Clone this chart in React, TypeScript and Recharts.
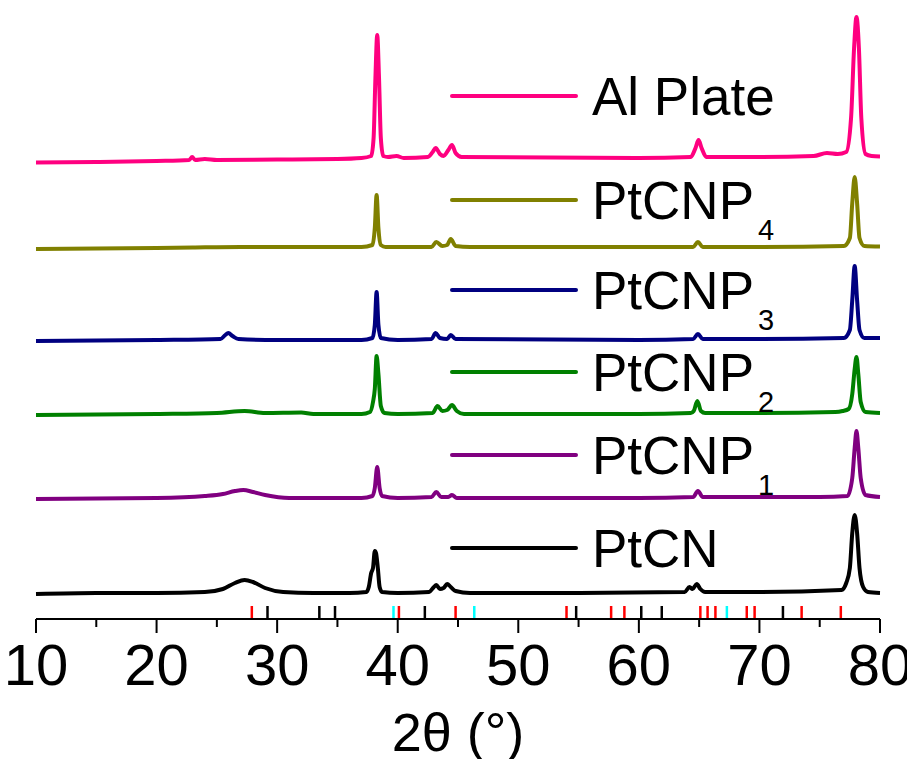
import React from 'react';
import { LineChart, Line, XAxis, YAxis, ReferenceLine, Legend } from 'recharts';

// 2θ (deg), intensity above own baseline (a.u.)
const ptcnPoints: [number, number][] = [
  [10, -1], [15, 0], [20, 0], [24, 1], [25.5, 4], [26.5, 10], [27.3, 13], [28, 11], [29, 5], [30.5, 1],
  [33, 0], [36, 0], [37.4, 1], [37.6, 6], [37.8, 20], [37.95, 25], [38.1, 42], [38.2, 40], [38.35, 25],
  [38.5, 6], [38.7, 1], [40, 0], [42.6, 1], [43.0, 6], [43.2, 8], [43.5, 4], [43.8, 5], [44.1, 9],
  [44.4, 6], [44.8, 2], [46, 0], [55, 0], [63.8, 1], [64.2, 6], [64.45, 4], [64.8, 9], [65.1, 4],
  [65.5, 1], [70, 1], [76.8, 3], [77.2, 10], [77.5, 25], [77.7, 60], [77.9, 78], [78.1, 60], [78.3, 25],
  [78.6, 6], [79, 1], [80, 0],
];
const p1Points: [number, number][] = [
  [10, -1], [20, 0], [24, 2], [25.5, 4], [26.5, 7], [27.2, 8], [28, 6], [29, 3], [31, 0], [37, 0],
  [37.9, 2], [38.1, 10], [38.3, 31], [38.5, 10], [38.7, 2], [40, 0], [42.8, 1], [43.2, 6], [43.6, 1],
  [44.2, 1], [44.5, 3], [44.9, 0], [60, 0], [64.5, 1], [64.9, 7], [65.3, 1], [75, 1], [77.3, 2],
  [77.7, 20], [77.9, 50], [78.05, 67], [78.2, 50], [78.4, 20], [78.8, 3], [80, 1],
];
const p2Points: [number, number][] = [
  [10, -1], [20, 0], [25, 1], [27.3, 3], [29, 1], [32, 1.5], [33, 0], [37, 0], [37.7, 2], [37.95, 12],
  [38.1, 25], [38.25, 58], [38.4, 40], [38.6, 8], [38.9, 1], [40, 0], [42.9, 1], [43.3, 8], [43.7, 3],
  [44.1, 4], [44.5, 9], [44.9, 3], [45.5, 0], [60, 0], [64.3, 1], [64.55, 3], [64.85, 13], [65.15, 3],
  [65.5, 1], [70, 1], [76.3, 2], [76.9, 3], [77.4, 5], [77.7, 20], [77.9, 45], [78.05, 57], [78.2, 40],
  [78.4, 12], [78.8, 2], [80, 1],
];
const p3Points: [number, number][] = [
  [10, -1], [20, 0], [25.3, 1], [25.7, 5], [25.95, 7], [26.3, 4], [26.8, 1], [30, 0], [37, 0],
  [37.9, 2], [38.1, 15], [38.25, 48], [38.4, 15], [38.6, 2], [40, 0], [42.8, 1], [43.15, 7], [43.5, 2],
  [44.1, 1], [44.4, 5], [44.8, 1], [60, 0], [64.5, 1], [64.9, 6], [65.3, 1], [70, 1], [77, 2],
  [77.5, 10], [77.7, 40], [77.9, 74], [78.1, 40], [78.3, 10], [78.7, 2], [80, 2],
];
const p4Points: [number, number][] = [
  [10, -1], [20, 0], [23, 0.5], [27, 1], [37, 1], [37.9, 3], [38.1, 20], [38.25, 53], [38.4, 20],
  [38.6, 3], [39, 1], [42.8, 1], [43.2, 6], [43.7, 2], [44.1, 3], [44.4, 9], [44.8, 2], [46, 1],
  [64.5, 1], [64.9, 6], [65.3, 1], [70, 1], [77, 2], [77.5, 10], [77.7, 45], [77.9, 71], [78.1, 45],
  [78.3, 10], [78.7, 2], [80, 1.5],
];
const alPoints: [number, number][] = [
  [10, -4.5], [15, -4], [20, -3], [22.7, -2], [22.95, 1], [23.2, -2], [24, -1], [25, -2], [30, -1.5],
  [35, -1], [37, 0], [37.8, 2], [38.0, 20], [38.15, 80], [38.3, 123], [38.45, 80], [38.6, 20],
  [38.8, 2], [39.2, 1], [39.9, 2], [40.5, 0], [42.5, 1], [42.9, 6], [43.15, 10], [43.5, 4], [43.8, 2],
  [44.2, 8], [44.5, 13], [44.8, 5], [45.3, 1], [60, 0], [64.3, 1], [64.7, 10], [64.95, 18], [65.2, 10],
  [65.6, 1], [70, 1], [74.5, 2], [75.6, 5], [76.5, 4], [77.2, 6], [77.6, 40], [77.85, 110], [78.05, 141],
  [78.25, 110], [78.45, 40], [78.8, 4], [79.3, 2], [80, 1.5],
];

const seriesNames = ['PtCN', 'PtCNP1', 'PtCNP2', 'PtCNP3', 'PtCNP4', 'Al Plate'];
const seriesColors = ['#000000', '#800080', '#008000', '#000080', '#808000', '#FF0080'];
const seriesOffsets = [26, 121, 205, 279, 371, 461];
const seriesPoints = [ptcnPoints, p1Points, p2Points, p3Points, p4Points, alPoints];

// reference stick patterns
const redSticks = [27.9, 40.1, 44.8, 54.0, 57.7, 58.8, 65.1, 65.7, 66.35, 68.95, 69.6, 73.5, 76.75];
const blackSticks = [29.2, 33.5, 34.8, 42.25, 54.8, 60.2, 61.9, 71.95];
const cyanSticks = [39.65, 46.35, 67.3];
const stickHeight = 13;

const xTicks = [10, 15, 20, 25, 30, 35, 40, 45, 50, 55, 60, 65, 70, 75, 80];

const FONT = '"Liberation Sans", Arial, sans-serif';

const legendRows = [96, 200, 290, 372, 455, 548];

const AxisTick = (props: any) => {
  const { x, y, payload } = props;
  const major = payload.value % 10 === 0;
  return (
    <g>
      <line x1={x} y1={y} x2={x} y2={y + (major ? 14 : 8)} stroke="#000" strokeWidth={2} />
      {major && (
        <text x={x} y={y + 66} textAnchor="middle" fontSize={58} fontFamily={FONT} fill="#000">
          {payload.value}
        </text>
      )}
    </g>
  );
};

const renderLegend = () => {
  const order = [5, 4, 3, 2, 1, 0];
  return (
    <svg width={340} height={600} style={{ overflow: 'visible' }}>
      {order.map((si, i) => {
        const name = seriesNames[si];
        const m = name.match(/^(PtCNP)(\d)$/);
        const ry = legendRows[i];
        return (
          <g key={name}>
            <line x1={2} y1={ry} x2={126} y2={ry} stroke={seriesColors[si]} strokeWidth={4} strokeLinecap="round" />
            <text x={142} y={ry + 19} fontSize={53} fontFamily={FONT} fill="#000">
              {m ? (
                <>
                  {m[1]}
                  <tspan dx={4} dy={21} fontSize={29}>{m[2]}</tspan>
                </>
              ) : (
                name
              )}
            </text>
          </g>
        );
      })}
    </svg>
  );
};

export default function App() {
  const lines = seriesPoints.map((pts, i) => pts.map(([x, y]) => ({ x, y: y + seriesOffsets[i] })));
  return (
    <div style={{ margin: -8, width: 915, height: 767 }}>
      <LineChart width={915} height={767} margin={{ top: 9, right: 35, bottom: 0, left: 36 }}>
        <XAxis
          dataKey="x"
          type="number"
          domain={[10, 80]}
          ticks={xTicks}
          interval={0}
          tickSize={0}
          tickMargin={0}
          tickLine={false}
          tick={<AxisTick />}
          height={148}
          axisLine={{ stroke: '#000', strokeWidth: 2 }}
          label={{
            value: '2θ (°)',
            position: 'insideBottom',
            offset: 16,
            fontSize: 54,
            fontFamily: FONT,
            fill: '#000',
          }}
        />
        <YAxis hide type="number" domain={[0, 610]} />
        <Legend
          layout="horizontal"
          verticalAlign="middle"
          align="center"
          content={renderLegend}
          wrapperStyle={{ top: 0, left: 450, width: 340, height: 600 }}
        />
        {redSticks.map((v) => (
          <ReferenceLine key={'r' + v} segment={[{ x: v, y: 0 }, { x: v, y: stickHeight }]} stroke="#FF0000" strokeWidth={2.5} />
        ))}
        {blackSticks.map((v) => (
          <ReferenceLine key={'k' + v} segment={[{ x: v, y: 0 }, { x: v, y: stickHeight }]} stroke="#000000" strokeWidth={2.5} />
        ))}
        {cyanSticks.map((v) => (
          <ReferenceLine key={'c' + v} segment={[{ x: v, y: 0 }, { x: v, y: stickHeight }]} stroke="#00FFFF" strokeWidth={2.5} />
        ))}
        {lines.map((d, i) => (
          <Line
            key={seriesNames[i]}
            data={d}
            dataKey="y"
            name={seriesNames[i]}
            type="monotoneX"
            stroke={seriesColors[i]}
            strokeWidth={4}
            dot={false}
            isAnimationActive={false}
          />
        ))}
      </LineChart>
    </div>
  );
}
